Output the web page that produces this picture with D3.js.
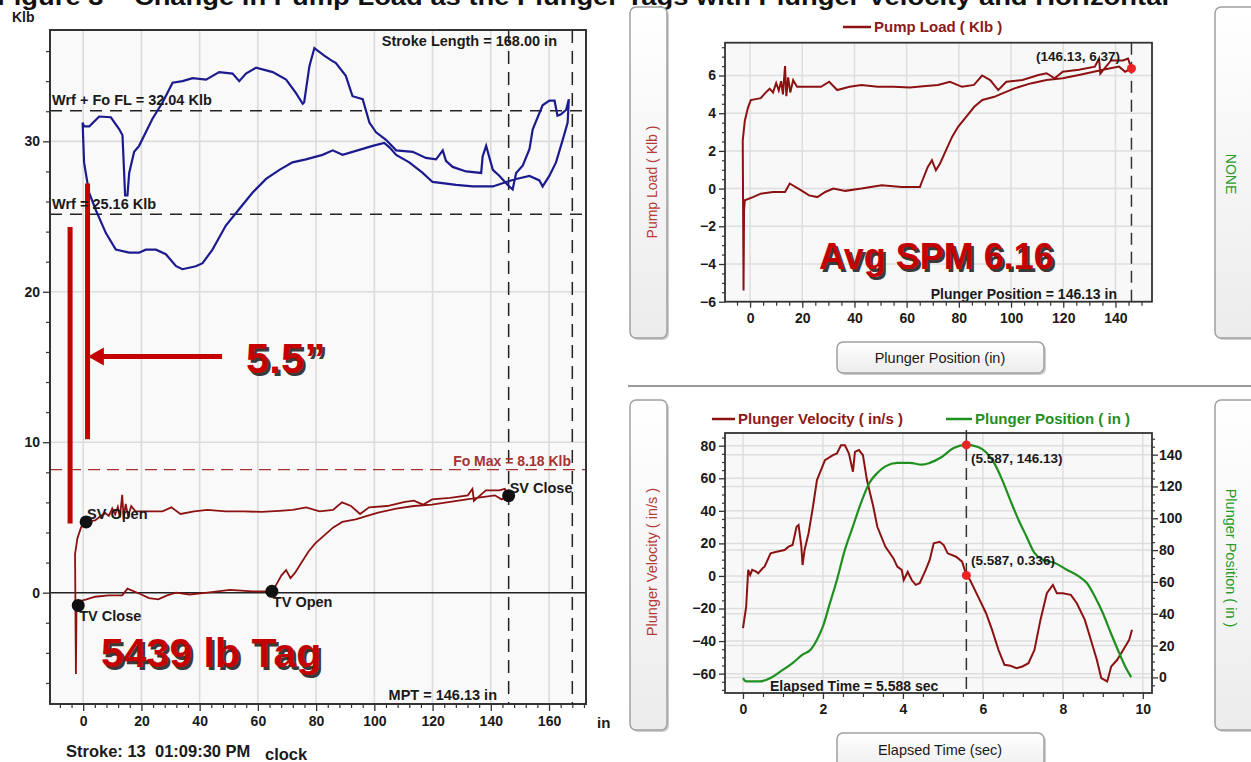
<!DOCTYPE html>
<html>
<head>
<meta charset="utf-8">
<script src="https://cdn.jsdelivr.net/npm/d3@7"></script>
<style>
body{margin:0;background:#fff;overflow:hidden;}
svg{display:block;font-family:"Liberation Sans",Arial,sans-serif;}
</style>
</head>
<body>
<div id="chart"></div>
<script>
// surface card (polished rod load, Klb) vs position (in)
var surfaceCard = [[-0.2,31.25],[0.3,28.6],[2,26.6],[4.4,25.4],[7.8,23.9],[11.2,22.8],[15.8,22.6],[19.2,22.6],[21.5,22.8],[25,22.8],[28.4,22.5],[31.9,21.7],[34.1,21.5],[38.7,21.7],[41,21.9],[44.4,22.8],[49,24.4],[53.6,25.5],[58.2,26.6],[62.8,27.5],[67.4,28.1],[71.9,28.6],[76.5,28.8],[82.2,29.1],[85.7,29.4],[89.1,29.1],[96,29.5],[99.4,29.7],[103.4,29.9],[105.2,29.6],[107.5,29.1],[112,28.6],[116.6,27.9],[120,27.3],[128.1,27.1],[133.8,27.0],[140.7,27.0],[145.3,27.3],[148.7,27.5],[153.3,27.7],[156.7,27.4],[157.8,27.0],[160.1,27.7],[162.4,28.6],[164.7,30.1],[166.4,31.25],[166.8,32.8],
  [165.9,32.1],[164.1,31.8],[162.9,31.7],[161.9,32.7],[160.1,32.7],[157.8,32.4],[154.4,30.8],[153.3,29.5],[151,28.4],[148.7,27.9],[147.5,26.8],[145.8,27.1],[143,27.7],[140.7,28.1],[138.4,29.7],[137.2,29.0],[136.7,27.9],[131.5,28.0],[126.9,28.3],[124.6,28.7],[123.5,29.4],[121.2,28.8],[117.7,28.9],[113.2,29.3],[107.5,29.4],[104,30.1],[100.6,30.6],[98.3,31.25],[96,32.8],[92.5,33.0],[90.2,34.35],[86.8,35.2],[85.1,35.4],[82.8,35.7],[79.4,36.2],[77.7,35.0],[75.9,32.6],[75.4,32.5],[73.1,33.2],[69.7,34.1],[65.1,34.6],[59.4,34.9],[55.9,34.5],[53.6,34.0],[51.3,34.5],[46.7,34.6],[42.2,34.1],[37.6,34.2],[34.1,34.0],[30.7,33.9],[27.3,32.6],[23.8,31.5],[19.2,29.7],[17.5,29.3],[15.8,27.9],[15.2,26.4],[14.4,26.4],[13.5,30.4],[12.4,30.8],[9.5,31.6],[5.5,31.65],[2.1,31.0],[0.3,31.0],[-0.2,31.25]];

// pump card (Klb) vs plunger position (in)
var pumpCard = [[-2.5,-5.4],[-2.8,2.56],[-2,3.6],[-0.8,4.3],[0.3,4.7],[4.1,4.8],[5.7,5.05],[7.5,5.3],[8.8,5.1],[10,5.6],[11,5.2],[11.9,5.7],[12.6,5.0],[13.4,6.5],[13.9,4.9],[14.6,5.9],[15.4,5.1],[16.5,5.75],[18,5.4],[22.6,5.4],[27.2,5.4],[30.3,5.67],[33.4,5.23],[38.1,5.4],[42.7,5.5],[48.9,5.4],[55,5.4],[61.2,5.37],[67.4,5.44],[72,5.5],[76.6,5.67],[81.2,5.4],[85.8,5.5],[88.9,6.0],[92,5.76],[95.1,5.23],[98.2,5.67],[104.4,5.76],[110.5,6.03],[113.6,6.12],[116.7,5.85],[119.8,6.2],[126,6.3],[132.1,6.47],[133.7,6.9],[134.2,6.1],[138.3,6.8],[142.9,6.8],[144.8,6.9],[146.13,6.37],
  [143.7,6.2],[141.4,6.47],[135.2,6.3],[126,6.03],[119.8,5.85],[113.6,5.76],[107.5,5.58],[101.3,5.32],[96.7,5.05],[93.6,4.87],[89,4.7],[85.9,4.34],[82.8,3.81],[79.7,3.28],[77.4,2.74],[75.1,2.04],[72.8,1.33],[71.2,0.97],[69.7,1.5],[68.1,1.15],[65.8,0.35],[65.1,0.09],[58.1,0.09],[50.4,0.18],[42.7,0.0],[36.5,-0.12],[31.9,0],[28.8,-0.18],[25.8,-0.45],[22.6,-0.36],[19.6,-0.09],[15.2,0.27],[13.4,-0.18],[8.8,-0.18],[4.1,-0.27],[1.1,-0.45],[-2,-0.62],[-2.3,-1.15],[-2.5,-5.4]];

// velocity (in/s) and plunger position (in) vs elapsed time (sec)
var velocity = [[0,-32],[0.08,-18.8],[0.13,3.7],[0.18,0.6],[0.23,3.7],[0.33,2.6],[0.38,1.6],[0.49,4.7],[0.54,5.7],[0.69,13.9],[0.84,14.9],[1.04,15.9],[1.14,18],[1.24,19],[1.34,30.2],[1.39,31.3],[1.46,18],[1.49,6.7],[1.54,15.9],[1.64,26.2],[1.75,42.5],[1.85,58.9],[1.95,65],[2.05,71.1],[2.25,74.2],[2.35,75.2],[2.45,80.3],[2.55,80.3],[2.65,75.2],[2.75,64],[2.8,76.2],[2.9,77.3],[3.0,74.2],[3.1,58.9],[3.26,42.5],[3.36,30.2],[3.56,18],[3.76,10.9],[3.86,5.7],[3.97,3.7],[4.02,-2.5],[4.12,2.6],[4.22,-2.5],[4.32,-5.5],[4.42,-4.5],[4.57,3.7],[4.67,9.8],[4.77,20],[4.92,21],[5.02,19],[5.12,13.9],[5.33,11.8],[5.48,8.8],[5.587,0.336],[5.68,-2.5],[5.88,-12.7],[6.08,-22.9],[6.23,-33.1],[6.39,-45.4],[6.54,-54.6],[6.69,-55.2],[6.84,-56.6],[6.99,-55.6],[7.14,-53.6],[7.29,-45.4],[7.44,-27],[7.6,-10.6],[7.75,-5.5],[7.85,-10.6],[8.0,-10.6],[8.2,-11.6],[8.35,-16.8],[8.55,-27],[8.7,-39.2],[8.85,-51.5],[8.96,-62.7],[9.11,-64.8],[9.21,-55.6],[9.36,-51.5],[9.56,-43.3],[9.66,-39.2],[9.73,-33.1]];
var plungerPosition = [[0,-0.4],[0.08,-2.5],[0.43,-2.5],[0.69,-0.4],[0.94,3.8],[1.24,9],[1.49,14.3],[1.69,17.4],[1.85,23.7],[2.0,32],[2.15,44.6],[2.35,61.4],[2.55,80.3],[2.75,94.9],[2.95,109.6],[3.16,122.2],[3.36,128.5],[3.56,132.6],[3.86,134.8],[4.17,134.8],[4.47,133.7],[4.67,134.8],[4.97,138.5],[5.27,144.2],[5.587,146.13],[5.88,144.8],[6.08,141.5],[6.28,134.8],[6.48,124.3],[6.68,111.7],[6.89,99.1],[7.09,88.6],[7.29,78.2],[7.49,74],[7.8,71.9],[8.1,67.7],[8.4,63.5],[8.6,59.3],[8.8,50.9],[9.0,40.5],[9.2,27.9],[9.41,15.3],[9.56,6.9],[9.71,0.2]];

var valveEvents = ["SV Open","TV Close","TV Open","SV Close"];
var valvePos = [1, -1.7, 64.8, 146.13];
var valveLoad = [4.7, -0.85, 0.09, 6.45];

var wrfFoFL = 32.04, wrf = 25.16, foMax = 8.18;
var strokeLength = 168.00, mpt = 146.13;
var cursorTime = 5.587, cursorVel = 0.336, cursorLoad = 6.37;

// tag annotation: bars [pos, top, bottom], arrow [load, from, to]
var tagBars = [[-4.5,24.3,4.6],[1.5,27.2,10.2]];
var tagArrow = [15.7,47.7,1.6];

var leftXTicks = [0,20,40,60,80,100,120,140,160];
var leftYTicks = [0,10,20,30];
var pumpXTicks = [0,20,40,60,80,100,120,140];
var pumpYTicks = [-6,-4,-2,0,2,4,6];
var timeTicks = [0,2,4,6,8,10];
var velTicks = [-60,-40,-20,0,20,40,60,80];
var posTicks = [0,20,40,60,80,100,120,140];

var darkRed = "#8c1212", blue = "#1b1b8f", green = "#1f8f1f", tagRed = "#c40000";

var svg = d3.select("#chart").append("svg").attr("width",1251).attr("height",762);
var defs = svg.append("defs");
var grad = defs.append("linearGradient").attr("id","btn").attr("x1",0).attr("y1",0).attr("x2",0).attr("y2",1);
grad.append("stop").attr("offset","0%").attr("stop-color","#ffffff");
grad.append("stop").attr("offset","100%").attr("stop-color","#ececec");

// caption, cut off at the top edge as in the source image
svg.append("text").attr("x",-3).attr("y",5).attr("font-size",23).attr("font-weight","bold")
  .attr("fill","#111").attr("textLength",1172).attr("lengthAdjust","spacingAndGlyphs")
  .text("Figure 3 – Change in Pump Load as the Plunger Tags with Plunger Velocity and Horizontal");

function styleAxis(g, size){
  g.select(".domain").remove();
  g.selectAll("line").attr("stroke","#333").attr("stroke-width",1.3);
  g.selectAll("text").attr("fill","#1a1a1a").style("font-size",size+"px").style("font-weight","bold")
    .style("font-family","'Liberation Sans',Arial,sans-serif");
}
function minor(g){
  g.select(".domain").remove();
  g.selectAll("line").attr("stroke","#333").attr("stroke-width",1.2);
}
function button(x,y,w,h){
  svg.append("rect").attr("x",x+2).attr("y",y+2).attr("width",w).attr("height",h).attr("rx",6).attr("fill","#cfcfcf");
  svg.append("rect").attr("x",x).attr("y",y).attr("width",w).attr("height",h).attr("rx",6)
    .attr("fill","url(#btn)").attr("stroke","#a0a0a0").attr("stroke-width",1.5);
}
function bigText(x,y,str,size){
  svg.append("text").attr("x",x+2.5).attr("y",y+2.5).attr("font-size",size).attr("font-weight","bold").attr("fill","#3a3a3a").text(str);
  svg.append("text").attr("x",x).attr("y",y).attr("font-size",size).attr("font-weight","bold").attr("fill",tagRed).text(str);
}
function label(x,y,str,opts){
  opts = opts || {};
  return svg.append("text").attr("x",x).attr("y",y)
    .attr("font-size",opts.size || 14).attr("font-weight",opts.weight || "bold")
    .attr("fill",opts.fill || "#1a1a1a").attr("text-anchor",opts.anchor || "start").text(str);
}

/* ---------------- left panel: surface & pump card ---------------- */
var xL = d3.scaleLinear().domain([-11.4,172.7]).range([50,586]);
var yL = d3.scaleLinear().domain([-7.4,37.4]).range([704,30]);

label(12,22,"Klb",{size:14});
svg.append("rect").attr("x",50).attr("y",30).attr("width",536).attr("height",674).attr("fill","#f9f9f9");

var lp = svg.append("g");
lp.selectAll(".vg").data(leftXTicks).enter().append("line")
  .attr("x1",d=>xL(d)).attr("x2",d=>xL(d)).attr("y1",30).attr("y2",704)
  .attr("stroke","#dcdcdc").attr("stroke-width",1.6);
lp.selectAll(".hg").data(leftYTicks.filter(d=>d!=0)).enter().append("line")
  .attr("x1",50).attr("x2",586).attr("y1",d=>yL(d)).attr("y2",d=>yL(d))
  .attr("stroke","#dcdcdc").attr("stroke-width",1.6);
lp.append("line").attr("x1",50).attr("x2",586).attr("y1",yL(0)).attr("y2",yL(0)).attr("stroke","#222").attr("stroke-width",1.5);

[wrfFoFL, wrf].forEach(function(v){
  lp.append("line").attr("x1",50).attr("x2",586).attr("y1",yL(v)).attr("y2",yL(v))
    .attr("stroke","#222").attr("stroke-width",1.5).attr("stroke-dasharray","12,8");
});
lp.append("line").attr("x1",50).attr("x2",586).attr("y1",yL(foMax)).attr("y2",yL(foMax))
  .attr("stroke","#a83232").attr("stroke-width",1.3).attr("stroke-dasharray","12,7");
[mpt, strokeLength].forEach(function(v){
  lp.append("line").attr("x1",xL(v)).attr("x2",xL(v)).attr("y1",30).attr("y2",704)
    .attr("stroke","#222").attr("stroke-width",1.5).attr("stroke-dasharray","13,8");
});

var lineL = d3.line().x(d=>xL(d[0])).y(d=>yL(d[1]));
lp.append("path").datum(surfaceCard).attr("d",lineL).attr("fill","none").attr("stroke",blue).attr("stroke-width",2.2);
lp.append("path").datum(pumpCard).attr("d",lineL).attr("fill","none").attr("stroke",darkRed).attr("stroke-width",1.8);

label(52,105,"Wrf + Fo FL = " + wrfFoFL.toFixed(2) + " Klb",{size:14.5});
label(52,209,"Wrf = " + wrf.toFixed(2) + " Klb",{size:14.5});
label(557,46,"Stroke Length = " + strokeLength.toFixed(2) + " in",{size:14.5,anchor:"end"});
label(571,466,"Fo Max = " + foMax.toFixed(2) + " Klb",{size:14,fill:"#a83232",anchor:"end"});
label(497,700,"MPT = " + mpt.toFixed(2) + " in",{size:14.5,anchor:"end"});

// tag annotation
tagBars.forEach(function(b){
  lp.append("line").attr("x1",xL(b[0])).attr("x2",xL(b[0])).attr("y1",yL(b[1])).attr("y2",yL(b[2]))
    .attr("stroke",tagRed).attr("stroke-width",5);
});
lp.append("line").attr("x1",xL(tagArrow[1])).attr("x2",xL(tagArrow[2])+12).attr("y1",yL(tagArrow[0])).attr("y2",yL(tagArrow[0]))
  .attr("stroke",tagRed).attr("stroke-width",5);
lp.append("path").attr("fill",tagRed)
  .attr("d","M" + xL(tagArrow[2]) + "," + yL(tagArrow[0]) + "l16,-9l0,18z");

valveEvents.forEach(function(name,i){
  var cx = xL(valvePos[i]), cy = yL(valveLoad[i]);
  lp.append("circle").attr("cx",cx).attr("cy",cy).attr("r",6.5).attr("fill","#111");
  var below = name.indexOf("TV") == 0;
  label(cx + 1, below ? cy + 16 : cy - 3, name, {size:14.5});
});

bigText(246,373,"5.5\u201D",42);
bigText(101,667,"5439 lb Tag",41);

var axL = svg.append("g").attr("transform","translate(50,0)")
  .call(d3.axisLeft(yL).tickValues(leftYTicks).tickSize(7).tickPadding(3));
styleAxis(axL,14);
minor(svg.append("g").attr("transform","translate(50,0)")
  .call(d3.axisLeft(yL).tickValues(d3.range(-6,38,2).filter(d=>d%10!=0)).tickSize(4).tickFormat("")));
var axB = svg.append("g").attr("transform","translate(0,704)")
  .call(d3.axisBottom(xL).tickValues(leftXTicks).tickSize(7).tickPadding(5));
styleAxis(axB,14);
minor(svg.append("g").attr("transform","translate(0,704)")
  .call(d3.axisBottom(xL).tickValues(d3.range(-8,173,4).filter(d=>d%20!=0)).tickSize(4).tickFormat("")));
svg.append("rect").attr("x",50).attr("y",30).attr("width",536).attr("height",674)
  .attr("fill","none").attr("stroke","#333").attr("stroke-width",2);
label(597,728,"in",{size:15});
label(66,757,"Stroke: 13\u00A0\u00A001:09:30 PM",{size:16.5});
label(265,760,"clock",{size:16.5});

/* ---------------- top right: pump load vs plunger position ---------------- */
button(630,7,37,331);
button(1215,7,45,331);
button(837,342,207,31);
svg.append("text").attr("transform","translate(657,182) rotate(-90)").attr("text-anchor","middle")
  .attr("font-size",14).attr("fill","#b53a3a").text("Pump Load ( Klb )");
svg.append("text").attr("transform","translate(1226,174) rotate(90)").attr("text-anchor","middle")
  .attr("font-size",14).attr("fill","#2a9a2a").text("NONE");
label(940,363,"Plunger Position (in)",{size:14.5,weight:"normal",anchor:"middle"});

var xT = d3.scaleLinear().domain([-9.6,154]).range([725,1152]);
var yT = d3.scaleLinear().domain([-6,7.74]).range([301.7,42.7]);
svg.append("rect").attr("x",725).attr("y",42.7).attr("width",427).attr("height",259).attr("fill","#f8f8f8");
var tp = svg.append("g");
tp.selectAll(".vg").data(pumpXTicks).enter().append("line")
  .attr("x1",d=>xT(d)).attr("x2",d=>xT(d)).attr("y1",42.7).attr("y2",301.7).attr("stroke","#dedede").attr("stroke-width",1.5);
tp.selectAll(".hg").data(pumpYTicks).enter().append("line")
  .attr("x1",725).attr("x2",1152).attr("y1",d=>yT(d)).attr("y2",d=>yT(d)).attr("stroke","#dedede").attr("stroke-width",1.5);
tp.append("line").attr("x1",xT(mpt)).attr("x2",xT(mpt)).attr("y1",42.7).attr("y2",301.7)
  .attr("stroke","#333").attr("stroke-width",1.5).attr("stroke-dasharray","12,7");
var lineT = d3.line().x(d=>xT(d[0])).y(d=>yT(d[1]));
tp.append("path").datum(pumpCard).attr("d",lineT).attr("fill","none").attr("stroke",darkRed).attr("stroke-width",2);
tp.append("circle").attr("cx",xT(mpt)).attr("cy",yT(cursorLoad)).attr("r",4.5).attr("fill","#ee2222");
label(1120,61,"(" + mpt.toFixed(2) + ", " + cursorLoad.toFixed(2) + ")",{size:13.5,anchor:"end"});
label(1117,299,"Plunger Position = " + mpt.toFixed(2) + " in",{size:14,anchor:"end"});
bigText(819,269,"Avg SPM 6.16",36);

var tY = svg.append("g").attr("transform","translate(725,0)")
  .call(d3.axisLeft(yT).tickValues(pumpYTicks).tickSize(6).tickPadding(3).tickFormat(d3.format("d")));
styleAxis(tY,14);
minor(svg.append("g").attr("transform","translate(725,0)")
  .call(d3.axisLeft(yT).tickValues(d3.range(-5.5,7.6,0.5).filter(d=>d%2!=0)).tickSize(3).tickFormat("")));
var tX = svg.append("g").attr("transform","translate(0,301.7)")
  .call(d3.axisBottom(xT).tickValues(pumpXTicks).tickSize(6).tickPadding(5));
styleAxis(tX,14);
minor(svg.append("g").attr("transform","translate(0,301.7)")
  .call(d3.axisBottom(xT).tickValues(d3.range(-5,151,5).filter(d=>d%20!=0)).tickSize(4).tickFormat("")));
svg.append("rect").attr("x",725).attr("y",42.7).attr("width",427).attr("height",259)
  .attr("fill","none").attr("stroke","#333").attr("stroke-width",1.8);

svg.append("line").attr("x1",843).attr("x2",871).attr("y1",27).attr("y2",27).attr("stroke",darkRed).attr("stroke-width",2.5);
label(874,32,"Pump Load ( Klb )",{size:15,fill:"#8c1a1a"});

svg.append("line").attr("x1",628).attr("x2",1251).attr("y1",386).attr("y2",386).attr("stroke","#9a9a9a").attr("stroke-width",2);

/* ---------------- bottom right: velocity & position vs time ---------------- */
button(630,400,37,330);
button(1215,400,45,330);
button(837,733,207,40);
svg.append("text").attr("transform","translate(657,562) rotate(-90)").attr("text-anchor","middle")
  .attr("font-size",14.5).attr("fill","#b53a3a").text("Plunger Velocity ( in/s )");
svg.append("text").attr("transform","translate(1226,558) rotate(90)").attr("text-anchor","middle")
  .attr("font-size",14.5).attr("fill","#2a9a2a").text("Plunger Position ( in )");
label(940,755,"Elapsed Time (sec)",{size:14.5,weight:"normal",anchor:"middle"});

var xB = d3.scaleLinear().domain([-0.45,10.23]).range([725,1152]);
var yV = d3.scaleLinear().domain([-71.9,87.8]).range([693,433]);
var yP = d3.scaleLinear().domain([-9.8,153.6]).range([693,433]);
svg.append("rect").attr("x",725).attr("y",433).attr("width",427).attr("height",260).attr("fill","#f8f8f8");
var bp = svg.append("g");
bp.selectAll(".vg").data(timeTicks).enter().append("line")
  .attr("x1",d=>xB(d)).attr("x2",d=>xB(d)).attr("y1",433).attr("y2",693).attr("stroke","#dedede").attr("stroke-width",1.5);
bp.selectAll(".hv").data(velTicks).enter().append("line")
  .attr("x1",725).attr("x2",1152).attr("y1",d=>yV(d)).attr("y2",d=>yV(d)).attr("stroke","#dedede").attr("stroke-width",1.5);
bp.selectAll(".hp").data(posTicks).enter().append("line")
  .attr("x1",725).attr("x2",1152).attr("y1",d=>yP(d)).attr("y2",d=>yP(d)).attr("stroke","#dedede").attr("stroke-width",1.5);
bp.append("line").attr("x1",xB(cursorTime)).attr("x2",xB(cursorTime)).attr("y1",430).attr("y2",693)
  .attr("stroke","#333").attr("stroke-width",1.5).attr("stroke-dasharray","12,7");
bp.append("path").datum(velocity).attr("fill","none").attr("stroke",darkRed).attr("stroke-width",2)
  .attr("d",d3.line().x(d=>xB(d[0])).y(d=>yV(d[1])));
bp.append("path").datum(plungerPosition).attr("fill","none").attr("stroke",green).attr("stroke-width",2.2)
  .attr("d",d3.line().curve(d3.curveMonotoneX).x(d=>xB(d[0])).y(d=>yP(d[1])));
bp.append("circle").attr("cx",xB(cursorTime)).attr("cy",yP(mpt)).attr("r",4.5).attr("fill","#ee2222");
bp.append("circle").attr("cx",xB(cursorTime)).attr("cy",yV(cursorVel)).attr("r",4.5).attr("fill","#ee2222");
label(971,463,"(" + cursorTime + ", " + mpt.toFixed(2) + ")",{size:13.5});
label(971,565,"(" + cursorTime + ", " + cursorVel + ")",{size:13.5});
label(770,691,"Elapsed Time = 5.588 sec",{size:14});

var vY = svg.append("g").attr("transform","translate(725,0)")
  .call(d3.axisLeft(yV).tickValues(velTicks).tickSize(6).tickPadding(3));
styleAxis(vY,14);
minor(svg.append("g").attr("transform","translate(725,0)")
  .call(d3.axisLeft(yV).tickValues(d3.range(-70,86,5).filter(d=>d%20!=0)).tickSize(3).tickFormat("")));
var pY = svg.append("g").attr("transform","translate(1152,0)")
  .call(d3.axisRight(yP).tickValues(posTicks).tickSize(6).tickPadding(1));
styleAxis(pY,14);
minor(svg.append("g").attr("transform","translate(1152,0)")
  .call(d3.axisRight(yP).tickValues(d3.range(-5,151,5).filter(d=>d%20!=0)).tickSize(3).tickFormat("")));
var bX = svg.append("g").attr("transform","translate(0,693)")
  .call(d3.axisBottom(xB).tickValues(timeTicks).tickSize(6).tickPadding(5));
styleAxis(bX,14);
minor(svg.append("g").attr("transform","translate(0,693)")
  .call(d3.axisBottom(xB).tickValues(d3.range(0,10.1,0.5).filter(d=>d%2!=0)).tickSize(4).tickFormat("")));
svg.append("rect").attr("x",725).attr("y",433).attr("width",427).attr("height",260)
  .attr("fill","none").attr("stroke","#333").attr("stroke-width",1.8);

svg.append("line").attr("x1",712).attr("x2",735).attr("y1",419).attr("y2",419).attr("stroke",darkRed).attr("stroke-width",2.5);
label(738,424,"Plunger Velocity ( in/s )",{size:15,fill:"#8c1a1a"});
svg.append("line").attr("x1",946).attr("x2",972).attr("y1",419).attr("y2",419).attr("stroke",green).attr("stroke-width",2.5);
label(975,424,"Plunger Position ( in )",{size:15,fill:green});
</script>
</body>
</html>
